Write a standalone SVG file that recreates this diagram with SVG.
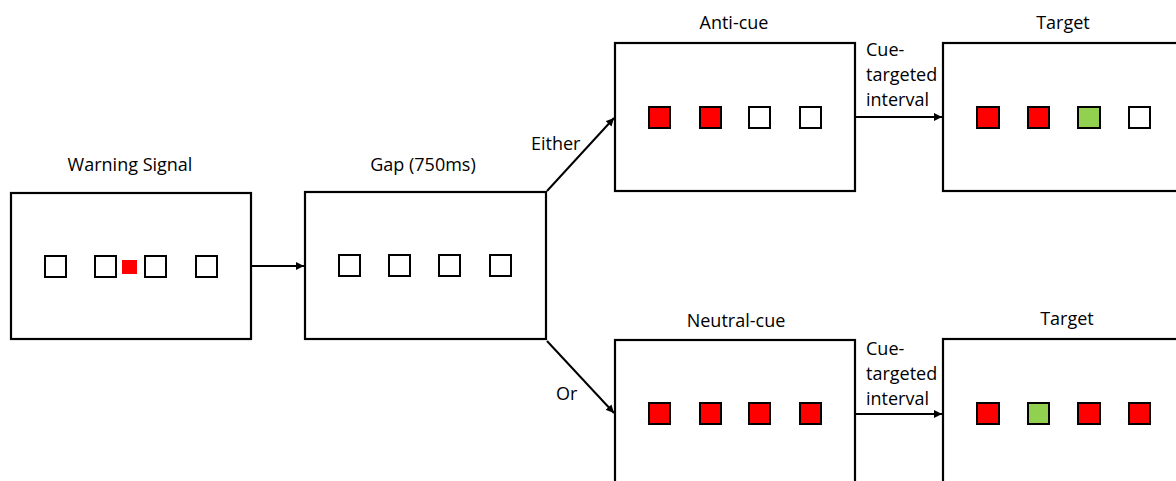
<svg xmlns="http://www.w3.org/2000/svg" width="1176" height="481" viewBox="0 0 1176 481">
  <style>
    .box { fill: #ffffff; stroke: #000000; stroke-width: 2.2; }
    .sq { stroke: #000000; stroke-width: 2; }
    .off { fill: #ffffff; }
    .red { fill: #ff0000; }
    .grn { fill: #92d050; }
    .lbl { font-family: "Open Sans", Lato, sans-serif; font-size: 18px; fill: #000000; }
    .mid { text-anchor: middle; }
    .link { stroke: #000000; stroke-width: 2; fill: none; marker-end: url(#head); }
  </style>
  <defs>
    <marker id="head" viewBox="0 0 10 10" refX="10" refY="5" markerWidth="4" markerHeight="4" markerUnits="strokeWidth" orient="auto">
      <path d="M0,0 L10,5 L0,10 z" fill="#000000"/>
    </marker>
  </defs>
  <rect width="1176" height="481" fill="#ffffff"/>

  <!-- warning signal stage -->
  <g id="warning">
    <text class="lbl mid" x="130" y="171">Warning Signal</text>
    <rect class="box" x="11" y="193" width="240" height="146"/>
    <rect class="sq off" x="45" y="256" width="21" height="21"/>
    <rect class="sq off" x="95" y="256" width="21" height="21"/>
    <rect class="red" x="122" y="260" width="15" height="14"/>
    <rect class="sq off" x="145" y="256" width="21" height="21"/>
    <rect class="sq off" x="196" y="256" width="21" height="21"/>
  </g>

  <!-- gap stage -->
  <g id="gap">
    <text class="lbl mid" x="423" y="171">Gap (750ms)</text>
    <rect class="box" x="305" y="192" width="241" height="147"/>
    <rect class="sq off" x="339" y="255" width="21" height="21"/>
    <rect class="sq off" x="389" y="255" width="21" height="21"/>
    <rect class="sq off" x="439" y="255" width="21" height="21"/>
    <rect class="sq off" x="490" y="255" width="21" height="21"/>
  </g>

  <!-- anti-cue stage -->
  <g id="anticue">
    <text class="lbl mid" x="734" y="29">Anti-cue</text>
    <rect class="box" x="615" y="43" width="240" height="148"/>
    <rect class="sq red" x="649" y="107" width="21" height="21"/>
    <rect class="sq red" x="700" y="107" width="21" height="21"/>
    <rect class="sq off" x="749" y="107" width="21" height="21"/>
    <rect class="sq off" x="800" y="107" width="21" height="21"/>
  </g>

  <!-- target after anti-cue -->
  <g id="target1">
    <text class="lbl mid" x="1063" y="29">Target</text>
    <rect class="box" x="943" y="43" width="240" height="148"/>
    <rect class="sq red" x="977" y="107" width="22" height="21"/>
    <rect class="sq red" x="1028" y="107" width="21" height="21"/>
    <rect class="sq grn" x="1078" y="107" width="22" height="21"/>
    <rect class="sq off" x="1129" y="107" width="21" height="21"/>
  </g>

  <!-- neutral-cue stage -->
  <g id="neutralcue">
    <text class="lbl mid" x="736" y="327">Neutral-cue</text>
    <rect class="box" x="615" y="340" width="240" height="148"/>
    <rect class="sq red" x="649" y="403" width="21" height="21"/>
    <rect class="sq red" x="700" y="403" width="21" height="21"/>
    <rect class="sq red" x="749" y="403" width="21" height="21"/>
    <rect class="sq red" x="800" y="403" width="21" height="21"/>
  </g>

  <!-- target after neutral-cue -->
  <g id="target2">
    <text class="lbl mid" x="1067" y="325">Target</text>
    <rect class="box" x="943" y="339" width="240" height="148"/>
    <rect class="sq red" x="977" y="403" width="22" height="21"/>
    <rect class="sq grn" x="1028" y="403" width="21" height="21"/>
    <rect class="sq red" x="1078" y="403" width="22" height="21"/>
    <rect class="sq red" x="1129" y="403" width="21" height="21"/>
  </g>

  <!-- connectors and their labels -->
  <g id="connectors">
    <line class="link" x1="251" y1="266" x2="304" y2="266"/>
    <line class="link" x1="547" y1="191" x2="614" y2="118"/>
    <line class="link" x1="547" y1="341" x2="614" y2="413"/>
    <line class="link" x1="855" y1="117" x2="942" y2="117"/>
    <line class="link" x1="855" y1="414" x2="942" y2="414"/>
    <text class="lbl" x="531" y="150">Either</text>
    <text class="lbl" x="556" y="400">Or</text>
    <text class="lbl" x="866" y="56">Cue-</text>
    <text class="lbl" x="866" y="81">targeted</text>
    <text class="lbl" x="866" y="106">interval</text>
    <text class="lbl" x="866" y="355">Cue-</text>
    <text class="lbl" x="866" y="380">targeted</text>
    <text class="lbl" x="866" y="405">interval</text>
  </g>
</svg>
